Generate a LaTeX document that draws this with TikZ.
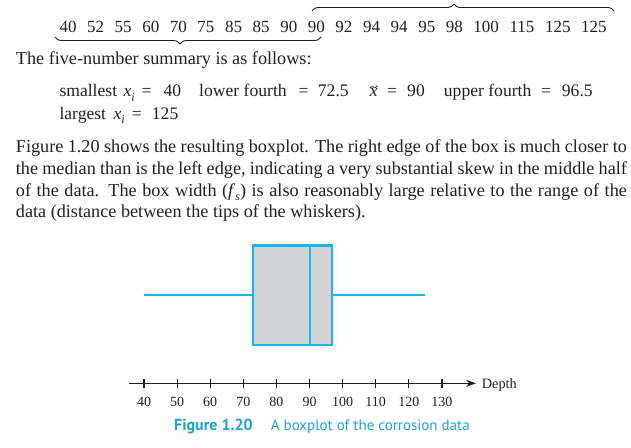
\documentclass[tikz,border=0pt]{standalone}
\usepackage{fontspec}
\setmainfont{Liberation Serif}
\newfontfamily\capfont{PT Sans}
\usetikzlibrary{decorations.pathreplacing,arrows.meta}
\definecolor{boxcyan}{HTML}{18B4EA}
\definecolor{capcyan}{HTML}{1BA0E0}
\definecolor{boxgray}{HTML}{D1D3D4}
\definecolor{ink}{HTML}{231F20}
\newcommand\xsubi{\textit{x}\raisebox{-0.25em}{\fontsize{12}{12}\selectfont\itshape i}}
\begin{document}
\begin{tikzpicture}[x=1pt,y=-1pt,
  txt/.style={inner sep=0pt, anchor=base west, text=ink, font=\fontsize{18.2}{21.7}\selectfont},
  sumtxt/.style={inner sep=0pt, anchor=base west, text=ink, font=\fontsize{17.6}{17.6}\selectfont},
  numrow/.style={inner sep=0pt, anchor=base west, text=ink, font=\fontsize{17}{17}\selectfont},
  bracepath/.style={draw=ink, line width=0.9pt, decorate, decoration={brace, amplitude=7pt, aspect=0.47}},
  boxline/.style={draw=boxcyan, line width=2.4pt},
  whisk/.style={draw=boxcyan, line width=1.9pt},
  axisline/.style={draw=ink, line width=1.2pt},
  ticklbl/.style={inner sep=0pt, anchor=base, text=ink, font=\fontsize{14}{14}\selectfont},
  caption/.style={inner sep=0pt, anchor=base west, text=capcyan, font=\capfont\fontsize{15}{15}\selectfont}]
\useasboundingbox (0,0) rectangle (631,447);

% data row
\node[numrow] (data) at (59.3,32.3) {40\hspace{10.6pt}52\hspace{10.6pt}55\hspace{10.6pt}60\hspace{10.6pt}70\hspace{10.6pt}75\hspace{10.6pt}85\hspace{10.6pt}85\hspace{10.6pt}90\hspace{10.6pt}90\hspace{10.6pt}92\hspace{10.6pt}94\hspace{10.6pt}94\hspace{10.6pt}95\hspace{10.6pt}98\hspace{10.6pt}100\hspace{10.6pt}115\hspace{10.6pt}125\hspace{10.6pt}125};
\coordinate (tbL) at (312,11);
\coordinate (tbR) at (614,11);
\coordinate (bbL) at (55,37);
\coordinate (bbR) at (321,37);
\draw[bracepath] (tbL) -- (tbR);
\draw[bracepath, decoration={mirror}] (bbL) -- (bbR);

\node[txt] (intro) at (15.7,64) {The five-number summary is as follows:};

% summary
\node[sumtxt] (s1) at (59.3,96.7) {smallest};
\node[sumtxt] (s1x) at (123.3,96.7) {\xsubi};
\node[sumtxt] (s2) at (141.5,96.7) {=};
\node[sumtxt] (s3) at (163.3,96.7) {40};
\node[sumtxt] (s4) at (199,96.7) {lower fourth};
\node[sumtxt] (s5) at (298.3,96.7) {=};
\node[sumtxt] (s6) at (317.7,96.7) {72.5};
\node[sumtxt] (s7) at (369.6,96.7) {\textit{x}};
\draw[draw=ink, line width=0.8pt] (369.8,88.2) .. controls (371.8,84.2) and (375.4,90.2) .. (377.6,85.6);
\node[sumtxt] (s8) at (387,96.7) {=};
\node[sumtxt] (s9) at (407,96.7) {90};
\node[sumtxt] (s10) at (443.7,96.7) {upper fourth};
\node[sumtxt] (s11) at (541,96.7) {=};
\node[sumtxt] (s12) at (561.7,96.7) {96.5};
\node[sumtxt] (l1) at (59.3,119) {largest};
\node[sumtxt] (l1x) at (113.3,119) {\xsubi};
\node[sumtxt] (l2) at (131.7,119) {=};
\node[sumtxt] (l3) at (151.7,119) {125};

% paragraph
\node[txt] (p1) at (15.7,152.7) {\makebox[611pt][s]{Figure 1.20 shows the resulting boxplot. The right edge of the box is much closer to}};
\node[txt] (p2) at (15.7,174.4) {\makebox[611pt][s]{the median than is the left edge, indicating a very substantial skew in the middle half}};
\node[txt] (p3) at (15.7,196.1) {\makebox[611pt][s]{of the data. The box width (\textit{f}\raisebox{-0.25em}{\fontsize{12}{12}\selectfont\itshape s}) is also reasonably large relative to the range of the}};
\node[txt] (p4) at (15.7,217.8) {data (distance between the tips of the whiskers).};

% boxplot
\coordinate (wL) at (144.3,295);
\coordinate (wR) at (425.3,295);
\coordinate (q1m) at (252.7,295);
\coordinate (q3m) at (332,295);
\coordinate (boxTL) at (252.7,245.3);
\coordinate (boxBR) at (332,345);
\coordinate (medT) at (310,245.3);
\coordinate (medB) at (310,345);
\draw[whisk] (wL) -- (q1m);
\draw[whisk] (q3m) -- (wR);
\filldraw[boxline, fill=boxgray] (boxTL) rectangle (boxBR);
\draw[boxline] (medT) -- (medB);

% axis
\coordinate (axL) at (129.3,383.3);
\coordinate (axR) at (476,383.3);
\draw[axisline, -{Stealth[length=10pt,width=7pt]}] (axL) -- (axR);
\foreach \v [count=\k from 0] in {40,50,60,70,80,90,100,110,120,130} {
  \pgfmathsetmacro\tx{144+33.1*\k}
  \draw[axisline] (\tx,378.8) -- (\tx,387.8);
  \node[ticklbl] (t\v) at (\tx,406) {\v};
}
\node[inner sep=0pt, anchor=base west, text=ink, font=\fontsize{14.3}{14.3}\selectfont] (depth) at (481.7,388.3) {Depth};

% caption
\node[caption, font=\capfont\bfseries\fontsize{16}{16}\selectfont] (figno) at (174,430.7) {Figure 1.20};
\node[caption] (figcap) at (270.7,430.7) {A boxplot of the corrosion data};
\end{tikzpicture}
\end{document}
